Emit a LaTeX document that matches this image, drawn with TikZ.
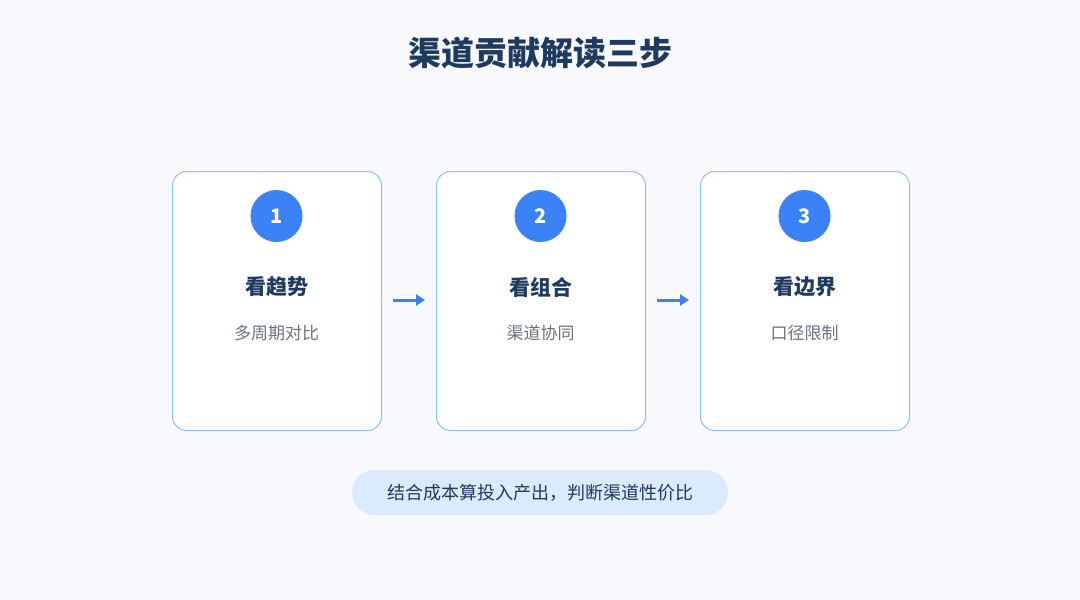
\documentclass[tikz,border=0pt]{standalone}
\usepackage{fontspec}
\setmainfont{Noto Sans CJK SC}
\usetikzlibrary{arrows.meta}
\definecolor{bg}{HTML}{F7F9FC}
\definecolor{navy}{HTML}{1F3A5F}
\definecolor{cardline}{HTML}{90C2F5}
\definecolor{blue}{HTML}{3B82F6}
\definecolor{gray}{HTML}{6B7280}
\definecolor{pill}{HTML}{DBEAFE}
\begin{document}
\begin{tikzpicture}[x=1pt,y=-1pt,
 card/.style={draw=cardline,line width=1pt,fill=white,rounded corners=14pt,minimum width=209pt,minimum height=259pt,anchor=north west},
 num/.style={circle,fill=blue,minimum size=52pt,inner sep=0pt,text=white,font=\fontsize{20}{24}\selectfont\bfseries},
 ttl/.style={text=navy,font=\fontsize{21}{25}\selectfont\bfseries},
 sub/.style={text=gray,font=\fontsize{17}{20}\selectfont},
 arr/.style={draw=blue,line width=3pt,-{Triangle[length=9pt,width=11pt]}}]
\fill[bg] (0,0) rectangle (1080,600);
\useasboundingbox (0,0) rectangle (1080,600);
\node[text=navy,font=\fontsize{33}{38}\selectfont\bfseries] (title) at (540,53) {渠道贡献解读三步};
\foreach \i/\x/\t/\s in {1/172/看趋势/多周期对比,2/436/看组合/渠道协同,3/700/看边界/口径限制}{
 \node[card] (c\i) at (\x,171) {};
 \node[num] (n\i) at (\x+104.5,216) {\i};
 \node[ttl] (t\i) at (\x+104.5,287) {\t};
 \node[sub] (s\i) at (\x+104.5,333) {\s};
}
\coordinate (a1s) at (393,300); \coordinate (a1e) at (425,300);
\coordinate (a2s) at (657,300); \coordinate (a2e) at (689,300);
\draw[arr] (a1s) -- (a1e);
\draw[arr] (a2s) -- (a2e);
\node[fill=pill,rounded corners=22.5pt,minimum width=376pt,minimum height=45pt,text=navy,font=\fontsize{18}{22}\selectfont] (note) at (540,492.5) {结合成本算投入产出，判断渠道性价比};
\end{tikzpicture}
\end{document}
